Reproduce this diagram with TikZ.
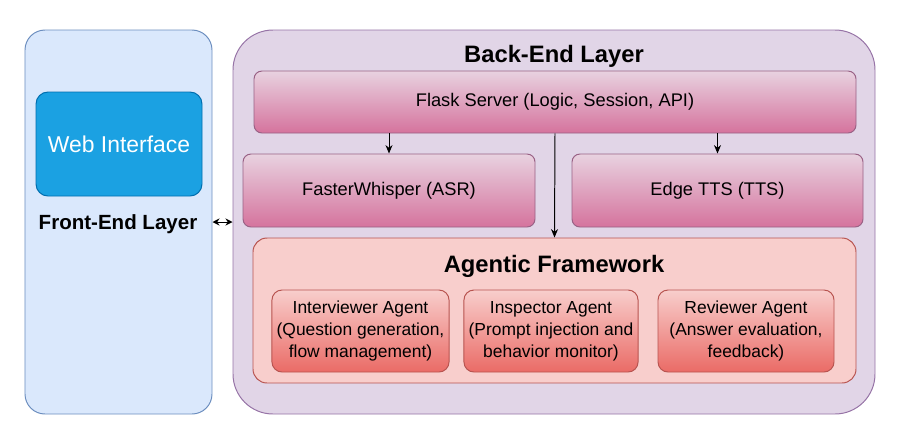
\documentclass[tikz,border=0pt]{standalone}
\usepackage{fontspec}
\setmainfont{Liberation Sans}
\usepackage{tikz}
\usetikzlibrary{arrows.meta,positioning}
\usepackage{xcolor}

\definecolor{frontfill}{HTML}{DAE8FC}
\definecolor{frontline}{HTML}{6C8EBF}
\definecolor{webfill}{HTML}{1BA1E2}
\definecolor{webline}{HTML}{006EAF}
\definecolor{backfill}{HTML}{E1D5E7}
\definecolor{backline}{HTML}{9673A6}
\definecolor{pinktop}{HTML}{E8D2E0}
\definecolor{pinkbot}{HTML}{D5739D}
\definecolor{pinkline}{HTML}{996185}
\definecolor{redfill}{HTML}{F8CECC}
\definecolor{redbot}{HTML}{EA6B66}
\definecolor{redline}{HTML}{B85450}

\begin{document}
\begin{tikzpicture}[line width=0.7pt,
  layer/.style={rounded corners=#1,draw,minimum height=9.6cm},
  web/.style={rounded corners=0.3cm,draw=webline,fill=webfill,text=white,minimum width=4.15cm,minimum height=2.6cm,font=\fontsize{16.3}{19}\selectfont},
  title/.style={font=\bfseries\fontsize{16.9}{20}\selectfont},
  service/.style={rounded corners=0.2cm,draw=pinkline,top color=pinktop,bottom color=pinkbot,minimum height=1.825cm,font=\fontsize{13}{16}\selectfont},
  agent/.style={rounded corners=0.25cm,draw=redline,top color=redfill,bottom color=redbot,minimum height=2.05cm,align=center,font=\fontsize{12.4}{15.6}\selectfont},
  arr/.style={-{Stealth[length=6pt,width=5pt]},black}]

\useasboundingbox (0,0) rectangle (22.65,-10.7);

% front-end
\node[layer=0.5cm,draw=frontline,fill=frontfill,minimum width=4.675cm] (front) at (2.9625,-5.55) {};
\node[web] (webui) at (2.975,-3.6) {Web Interface};
\node[font=\bfseries\fontsize{14.6}{17}\selectfont] (frontlbl) at (2.95,-5.6) {Front-End Layer};

% back-end
\node[layer=1cm,draw=backline,fill=backfill,minimum width=16.05cm] (back) at (13.85,-5.55) {};
\node[title] (backlbl) at (13.85,-1.4) {Back-End Layer};

\node[service,minimum width=15.05cm,minimum height=1.55cm] (flask) at (13.875,-2.55) {Flask Server (Logic, Session, API)};
\node[service,minimum width=7.3cm] (asr) at (9.725,-4.7625) {FasterWhisper (ASR)};
\node[service,minimum width=7.275cm] (tts) at (17.9375,-4.7625) {Edge TTS (TTS)};

\node[rounded corners=0.35cm,draw=redline,fill=redfill,minimum width=15.075cm,minimum height=3.625cm] (agentic) at (13.8625,-7.7625) {};
\node[title] (agenticlbl) at (13.85,-6.65) {Agentic Framework};

\node[agent,minimum width=4.2cm] (interviewer) at (9.0125,-8.275) {Interviewer Agent\\(Question generation,\\flow management)};
\node[agent,minimum width=4.2cm] (inspector) at (13.775,-8.275) {Inspector Agent\\(Prompt injection and\\behavior monitor)};
\node[agent,minimum width=4.4cm] (reviewer) at (18.65,-8.275) {Reviewer Agent\\(Answer evaluation,\\feedback)};

\foreach \x in {asr,tts}{\draw[arr] (\x.north |- flask.south) -- (\x.north);}
\draw[arr] (flask.south) -- (agentic.north);
\draw[{Stealth[length=5pt,width=5pt]}-{Stealth[length=5pt,width=5pt]},black] (front.east) -- (back.west);

\end{tikzpicture}
\end{document}
